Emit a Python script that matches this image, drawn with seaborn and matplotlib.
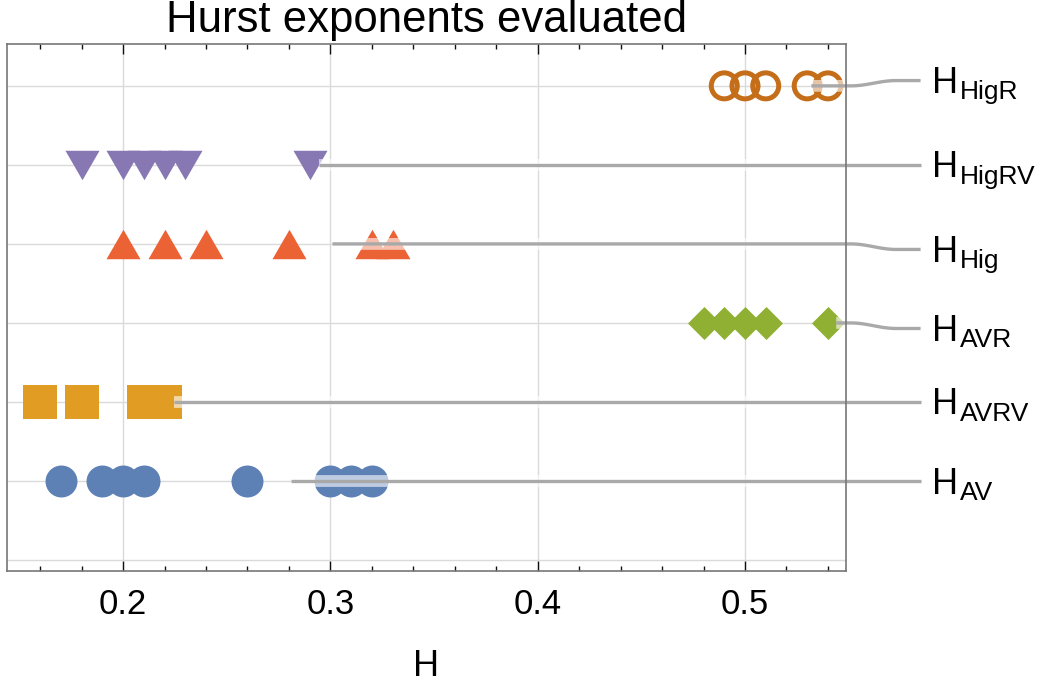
import numpy as np
import pandas as pd
import matplotlib
matplotlib.use('Agg')
import matplotlib.pyplot as plt
import seaborn as sns
from matplotlib.ticker import MultipleLocator

# Datos
series = ['AV', 'AVRV', 'AVR', 'Hig', 'HigRV', 'HigR']
rows = [1, 2, 3, 4, 5, 6]

h_av = [0.17, 0.19, 0.20, 0.21, 0.26, 0.30, 0.31, 0.32]
h_avrv = [0.16, 0.18, 0.21, 0.22]
h_avr = [0.48, 0.49, 0.50, 0.51, 0.54]
h_hig = [0.20, 0.22, 0.24, 0.28, 0.32, 0.33]
h_higrv = [0.18, 0.20, 0.21, 0.22, 0.23, 0.29]
h_higr = [0.49, 0.50, 0.51, 0.53, 0.54]

subscripts = ['AV', 'AVRV', 'AVR', 'Hig', 'HigRV', 'HigR']
callout_start = [0.281, 0.2245, 0.544, 0.301, 0.2944, 0.532]
label_rows = [1, 2, 2.93, 3.93, 5, 6.067]

colors = ['#5e81b5', '#e19c24', '#8fb032', '#eb6235', '#8778b3', '#c56e1a']

values = [h_av, h_avrv, h_avr, h_hig, h_higrv, h_higr]
df = pd.concat([pd.DataFrame({'H': v, 'row': r, 'serie': s})
                for v, r, s in zip(values, rows, series)], ignore_index=True)

sns.set_style('ticks')
plt.rcParams['font.family'] = ['Liberation Sans', 'DejaVu Sans']
plt.rcParams['text.color'] = 'black'
plt.rcParams['axes.labelcolor'] = 'black'
plt.rcParams['xtick.color'] = 'black'
plt.rcParams['xtick.labelcolor'] = 'black'

fig = plt.figure(figsize=(10.44, 6.86), dpi=100)
ax = fig.add_axes([0.0067, 0.1676, 0.8036, 0.7683])

tri_up = [(-1, -0.866), (1, -0.866), (0, 0.866)]
tri_down = [(-1, 0.866), (1, 0.866), (0, -0.866)]
markers = {'AV': ('o', 530), 'AVRV': ('s', 600), 'AVR': ('D', 283),
           'Hig': (tri_up, 600), 'HigRV': (tri_down, 600), 'HigR': ('o', 350)}

for s, c in zip(series, colors):
    m, size = markers[s]
    sub = df[df['serie'] == s]
    if s == 'HigR':
        sns.scatterplot(data=sub, x='H', y='row', marker=m, s=size, color=c,
                        facecolor='none', edgecolor=c, linewidth=3.6, ax=ax, zorder=3)
    else:
        sns.scatterplot(data=sub, x='H', y='row', marker=m, s=size, color=c,
                        edgecolor=c, linewidth=0, ax=ax, zorder=3)

# Callouts (lineas grises hasta las etiquetas)
x_end = 0.5847
x_text = 0.5904
b0, b1 = 0.551, 0.573
for x0, r, ly, sub_txt in zip(callout_start, rows, label_rows, subscripts):
    if ly == r:
        xs = np.array([x0, x_end])
        ys = np.array([r, r])
    else:
        t = np.linspace(0, 1, 40)
        xs = np.concatenate([[x0], b0 + (b1 - b0) * t, [x_end]])
        ys = np.concatenate([[r], r + (ly - r) * (1 - np.cos(np.pi * t)) / 2, [ly]])
    ax.plot(xs, ys, color='white', alpha=0.6, lw=8.5, solid_capstyle='butt',
            clip_on=False, zorder=4)
    ax.plot(xs, ys, color='#a9a9a9', lw=2.4, solid_capstyle='butt',
            clip_on=False, zorder=4.1)
    ax.annotate('H', xy=(x_text, ly), xytext=(0, -9), textcoords='offset points',
                fontsize=26, ha='left', va='baseline', annotation_clip=False)
    ax.annotate(sub_txt, xy=(x_text, ly), xytext=(19.5, -13.5), textcoords='offset points',
                fontsize=19, ha='left', va='baseline', annotation_clip=False)

ax.set_xlim(0.144, 0.5487)
ax.set_ylim(-0.139, 6.53)
ax.set_yticks(range(0, 7))
ax.set_yticklabels([])
ax.xaxis.set_minor_locator(MultipleLocator(0.02))
ax.set_xticks([0.2, 0.3, 0.4, 0.5])
ax.set_xticklabels(['0.2', '0.3', '0.4', '0.5'])
ax.tick_params(axis='x', which='both', direction='in', top=True, bottom=True,
               color='#111111', width=1.0, labelsize=25, pad=12)
ax.tick_params(axis='x', which='major', length=7.5)
ax.tick_params(axis='x', which='minor', length=3.8)
ax.tick_params(axis='y', length=0)
ax.grid(True, which='major', color='#dadada', lw=1.0)
ax.set_axisbelow(True)
for sp in ax.spines.values():
    sp.set_visible(True)
    sp.set_color('#777777')
    sp.set_linewidth(1.2)
    sp.set_zorder(5)

ax.set_xlabel('H', fontsize=26)
ax.xaxis.set_label_coords(0.5, -0.148)
ax.set_ylabel('')
ax.set_title('Hurst exponents evaluated', fontsize=31.5, pad=8.5)

fig.savefig('out.png', dpi=100)
